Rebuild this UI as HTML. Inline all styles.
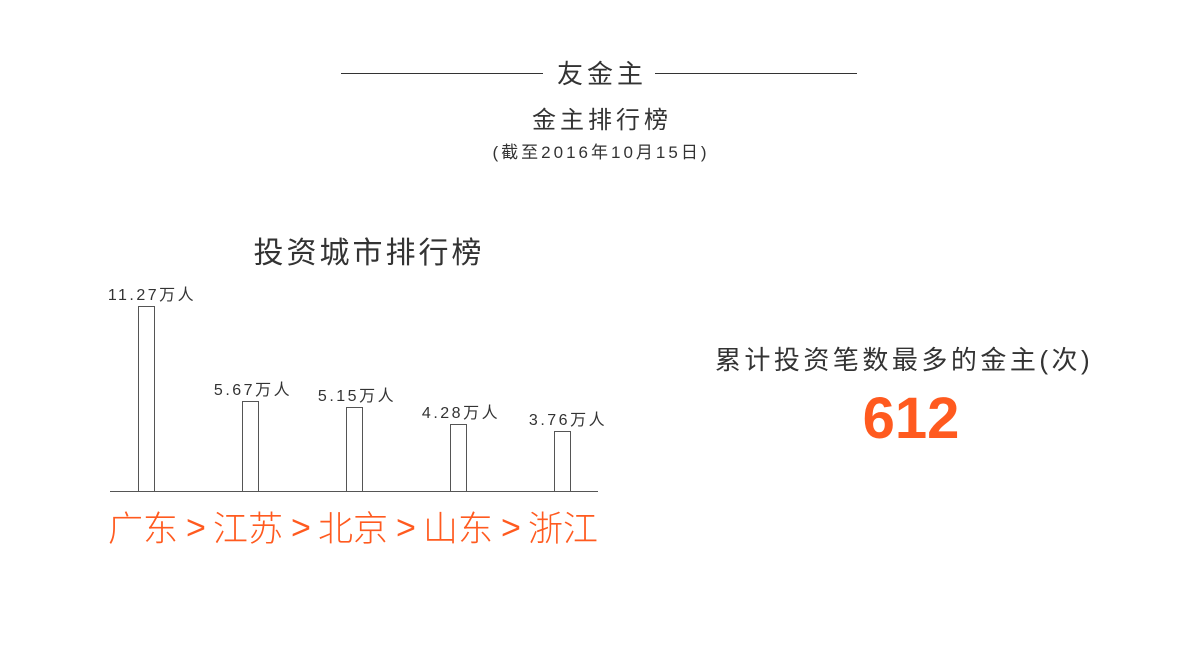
<!DOCTYPE html>
<html><head><meta charset="utf-8"><style>
body{margin:0;width:1200px;height:650px;background:#fff;position:relative;overflow:hidden;font-family:"Liberation Sans","Noto Sans CJK SC",sans-serif;color:#333}
.a{position:absolute;white-space:nowrap}
.c{transform:translateX(-50%)}
.bar{position:absolute;width:17px;border:1px solid #555;border-bottom:none;box-sizing:border-box;background:#fff}
.lbl{position:absolute;font-size:16px;letter-spacing:2.5px;color:#333;transform:translateX(-50%);white-space:nowrap}
.o{position:absolute;top:508px;font-size:35px;color:#ff5a1f;font-weight:300;line-height:44px}
.g{font-size:34px;top:506px}
</style></head><body>
<div class="a" style="left:341px;top:73px;width:202px;border-top:1px solid #333"></div>
<div class="a" style="left:655px;top:73px;width:202px;border-top:1px solid #333"></div>
<div class="a c" style="left:602px;top:57px;font-size:26px;letter-spacing:4px;line-height:34px">友金主</div>
<div class="a c" style="left:602px;top:105px;font-size:24px;letter-spacing:4px;line-height:32px">金主排行榜</div>
<div class="a c" style="left:601px;top:141px;font-size:17px;letter-spacing:3px;line-height:24px">(截至2016年10月15日)</div>
<div class="a c" style="left:369px;top:235px;font-size:30px;letter-spacing:3px;line-height:38px">投资城市排行榜</div>
<div class="bar" style="left:138px;top:306px;height:186px"></div>
<div class="bar" style="left:242px;top:401px;height:91px"></div>
<div class="bar" style="left:346px;top:407px;height:85px"></div>
<div class="bar" style="left:450px;top:424px;height:68px"></div>
<div class="bar" style="left:554px;top:431px;height:61px"></div>
<div class="a" style="left:110px;top:491px;width:488px;border-top:1px solid #555"></div>
<div class="lbl" style="left:152px;top:281px">11.27万人</div>
<div class="lbl" style="left:253px;top:376px">5.67万人</div>
<div class="lbl" style="left:357px;top:382px">5.15万人</div>
<div class="lbl" style="left:461px;top:399px">4.28万人</div>
<div class="lbl" style="left:568px;top:406px">3.76万人</div>
<div class="o" style="left:108px">广东</div>
<div class="o g" style="left:186px">&gt;</div>
<div class="o" style="left:213px">江苏</div>
<div class="o g" style="left:291px">&gt;</div>
<div class="o" style="left:318px">北京</div>
<div class="o g" style="left:396px">&gt;</div>
<div class="o" style="left:423px">山东</div>
<div class="o g" style="left:501px">&gt;</div>
<div class="o" style="left:528px">浙江</div>
<div class="a c" style="left:904px;top:343px;font-size:26px;letter-spacing:3.5px;line-height:34px">累计投资笔数最多的金主(次)</div>
<div class="a c" style="left:911px;top:386px;font-size:58px;line-height:66px;color:#ff5a1f;font-weight:bold">612</div>
</body></html>
